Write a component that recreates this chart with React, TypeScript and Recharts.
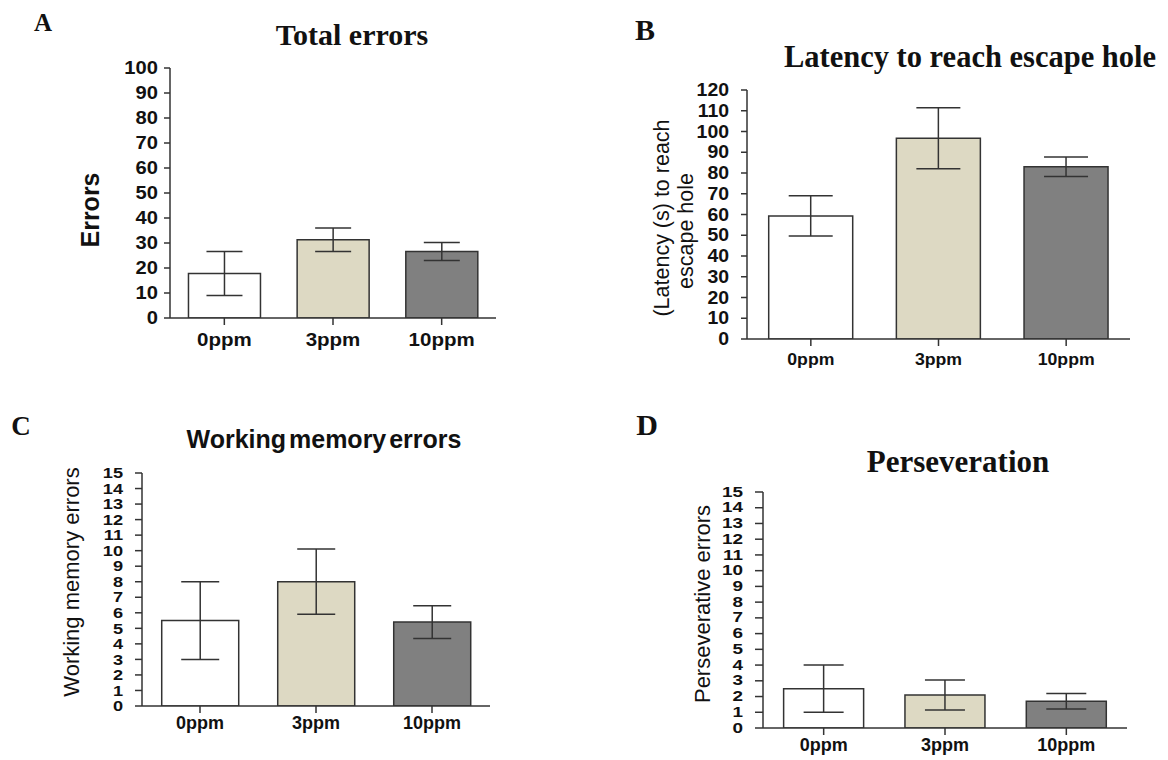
import React from 'react';
import { BarChart, Bar, Cell, XAxis, YAxis, ErrorBar } from 'recharts';

const categories = ['0ppm', '3ppm', '10ppm'];
const barColors = ['#ffffff', '#ddd9c3', '#808080'];

// A - total errors
const totalErrors = [17.8, 31.3, 26.6];
const totalErrorsSem = [8.8, 4.7, 3.6];
const totalTicks = [0, 10, 20, 30, 40, 50, 60, 70, 80, 90, 100];

// B - latency (s)
const latency = [59.3, 96.8, 83.0];
const latencySem = [9.7, 14.7, 4.7];
const latencyTicks = [0, 10, 20, 30, 40, 50, 60, 70, 80, 90, 100, 110, 120];

// C - working memory errors
const workingMemory = [5.5, 8.0, 5.4];
const workingMemorySem = [2.5, 2.1, 1.05];

// D - perseverative errors
const perseveration = [2.5, 2.1, 1.7];
const perseverationSem = [1.5, 0.95, 0.5];

const smallTicks = [0, 1, 2, 3, 4, 5, 6, 7, 8, 9, 10, 11, 12, 13, 14, 15];

const SANS = '"Liberation Sans", Arial, sans-serif';
const SERIF = '"Liberation Serif", "Times New Roman", serif';
const INK = '#333333';

const StretchTick = (props: any) => {
  const { x, y, payload, anchor, size, sx, dy } = props;
  return (
    <g transform={`translate(${x},${y}) scale(${sx},1)`}>
      <text
        x={0}
        y={dy}
        textAnchor={anchor}
        dominantBaseline="central"
        fontFamily={SANS}
        fontWeight="bold"
        fontSize={size}
        fill="#111"
      >
        {payload.value}
      </text>
    </g>
  );
};

type PanelProps = {
  left: number;
  top: number;
  width: number;
  height: number;
  margin: { top: number; right: number; bottom: number; left: number };
  values: number[];
  sems: number[];
  ticks: number[];
  yTickSize: number;
  yTickMargin: number;
  yFont: number;
  ySx: number;
  xFont: number;
  xSx: number;
  xDy: number;
  xHeight: number;
  capHalf: number;
};

const Panel = (p: PanelProps) => {
  const rows = categories.map((name, i) => ({
    name,
    value: p.values[i],
    sem: p.sems[i],
  }));
  return (
    <div style={{ position: 'absolute', left: p.left, top: p.top }}>
      <BarChart width={p.width} height={p.height} data={rows} margin={p.margin} barCategoryGap="17%">
        <XAxis
          dataKey="name"
          height={p.xHeight}
          interval={0}
          tickSize={7}
          tickMargin={0}
          axisLine={{ stroke: INK, strokeWidth: 1.5 }}
          tickLine={{ stroke: INK, strokeWidth: 1.5 }}
          tick={(t: any) => <StretchTick {...t} anchor="middle" size={p.xFont} sx={p.xSx} dy={p.xDy} />}
        />
        <YAxis
          width={70}
          domain={[p.ticks[0], p.ticks[p.ticks.length - 1]]}
          ticks={p.ticks}
          interval={0}
          allowDataOverflow
          tickSize={p.yTickSize}
          tickMargin={p.yTickMargin}
          axisLine={{ stroke: INK, strokeWidth: 1.5 }}
          tickLine={{ stroke: INK, strokeWidth: 1.5 }}
          tick={(t: any) => <StretchTick {...t} anchor="end" size={p.yFont} sx={p.ySx} dy={0} />}
        />
        <Bar dataKey="value" stroke={INK} strokeWidth={1.5} isAnimationActive={false}>
          {rows.map((r, i) => (
            <Cell key={r.name} fill={barColors[i]} />
          ))}
          <ErrorBar
            dataKey="sem"
            direction="y"
            width={p.capHalf}
            stroke={INK}
            strokeWidth={1.5}
            isAnimationActive={false}
          />
        </Bar>
      </BarChart>
    </div>
  );
};

const Txt = (props: {
  x: number;
  y: number;
  size: number;
  serif?: boolean;
  bold?: boolean;
  rotate?: boolean;
  wordSpacing?: number;
  children: React.ReactNode;
}) => (
  <div
    style={{
      position: 'absolute',
      left: props.x,
      top: props.y,
      transform: `translate(-50%, -50%)${props.rotate ? ' rotate(-90deg)' : ''}`,
      fontFamily: props.serif ? SERIF : SANS,
      fontWeight: props.bold ? 'bold' : 'normal',
      fontSize: props.size,
      lineHeight: 1,
      whiteSpace: 'nowrap',
      color: '#111',
      wordSpacing: props.wordSpacing,
    }}
  >
    {props.children}
  </div>
);

export default function App() {
  return (
    <div style={{ position: 'absolute', left: 0, top: 0, width: 1168, height: 760, background: '#fff', overflow: 'hidden' }}>
      {/* A */}
      <Panel
        left={0}
        top={0}
        width={580}
        height={380}
        margin={{ top: 68, right: 84, bottom: 22, left: 100 }}
        values={totalErrors}
        sems={totalErrorsSem}
        ticks={totalTicks}
        yTickSize={6}
        yTickMargin={6}
        yFont={18}
        ySx={1.12}
        xFont={19}
        xSx={1.08}
        xDy={14}
        xHeight={40}
        capHalf={18}
      />
      {/* B */}
      <Panel
        left={580}
        top={0}
        width={588}
        height={390}
        margin={{ top: 90, right: 38, bottom: 11, left: 97 }}
        values={latency}
        sems={latencySem}
        ticks={latencyTicks}
        yTickSize={6}
        yTickMargin={12}
        yFont={18}
        ySx={1.08}
        xFont={17}
        xSx={1.04}
        xDy={13}
        xHeight={40}
        capHalf={22}
      />
      {/* C */}
      <Panel
        left={0}
        top={400}
        width={560}
        height={360}
        margin={{ top: 73, right: 70, bottom: 14, left: 72 }}
        values={workingMemory}
        sems={workingMemorySem}
        ticks={smallTicks}
        yTickSize={7}
        yTickMargin={12}
        yFont={14}
        ySx={1.3}
        xFont={18}
        xSx={1}
        xDy={10}
        xHeight={40}
        capHalf={19}
      />
      {/* D */}
      <Panel
        left={620}
        top={400}
        width={548}
        height={360}
        margin={{ top: 92, right: 41, bottom: 2, left: 73 }}
        values={perseveration}
        sems={perseverationSem}
        ticks={smallTicks}
        yTickSize={8}
        yTickMargin={12}
        yFont={14}
        ySx={1.35}
        xFont={18}
        xSx={1}
        xDy={10}
        xHeight={30}
        capHalf={20}
      />

      <Txt x={43} y={22} size={25} serif bold>A</Txt>
      <Txt x={645} y={30} size={30} serif bold>B</Txt>
      <Txt x={21} y={426} size={27} serif bold>C</Txt>
      <Txt x={647} y={425} size={30} serif bold>D</Txt>

      <Txt x={352} y={35} size={30} serif bold>Total errors</Txt>
      <Txt x={970} y={57} size={30.5} serif bold>Latency to reach escape hole</Txt>
      <Txt x={324} y={439} size={25} bold wordSpacing={-4}>Working memory errors</Txt>
      <Txt x={958} y={461} size={31} serif bold>Perseveration</Txt>

      <Txt x={90} y={210} size={25} bold rotate>Errors</Txt>
      <Txt x={663} y={218} size={21.5} rotate>(Latency (s) to reach</Txt>
      <Txt x={687} y={231} size={21.5} rotate>escape hole</Txt>
      <Txt x={72} y={582} size={22} rotate>Working memory errors</Txt>
      <Txt x={703} y={604} size={22} rotate>Perseverative errors</Txt>
    </div>
  );
}
